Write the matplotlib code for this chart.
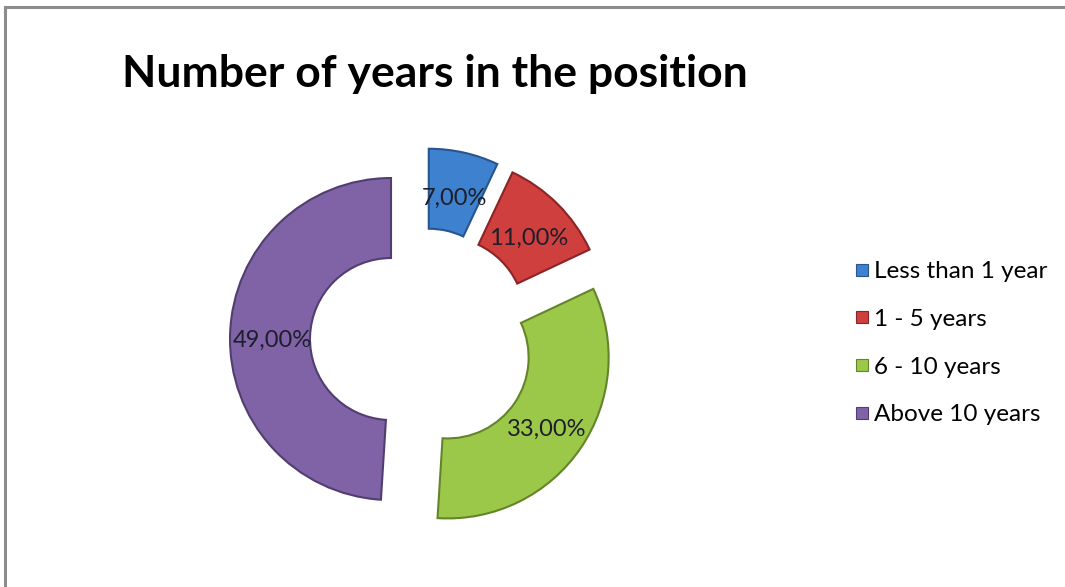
import matplotlib
matplotlib.use("Agg")
import matplotlib.pyplot as plt
from matplotlib.lines import Line2D
from matplotlib.patches import Rectangle

plt.rcParams['font.family'] = ['Lato', 'DejaVu Sans']

categories = ["Less than 1 year", "1 - 5 years", "6 - 10 years", "Above 10 years"]
shares = [7.0, 11.0, 33.0, 49.0]
colors = ["#3E82CF", "#CF3F3D", "#9CC84A", "#8063A6"]
edge_colors = ["#265590", "#8A2426", "#64842A", "#513E70"]

W, H = 1065, 587
fig = plt.figure(figsize=(W / 100, H / 100), dpi=100)
ax = fig.add_axes([0, 0, 1, 1])

# outer frame of the chart area (only top and left edges fall inside)
ax.add_patch(Rectangle((5, -10), W + 20, H - 7 + 10, fill=False,
                       edgecolor="#8C8C8C", linewidth=2.2))

wedges, texts, autotexts = ax.pie(
    shares,
    colors=colors,
    startangle=90,
    counterclock=False,
    center=(422, H - 340),
    radius=161,
    explode=[31] * len(shares),
    wedgeprops=dict(width=80, linewidth=1.5),
    autopct=lambda p: f"{p:.2f}%".replace(".", ","),
    pctdistance=0.74,
    textprops=dict(fontsize=17, color="#1E1E2A"),
)
for w, ec in zip(wedges, edge_colors):
    w.set_edgecolor(ec)
# labels sit a little below the ring centreline
for t in autotexts:
    x, y = t.get_position()
    t.set_position((x, y - 5))

ax.set_xlim(0, W)
ax.set_ylim(0, H)
ax.set_aspect("equal")
ax.axis("off")

fig.text(122 / W, 1 - 87 / H, "Number of years in the position",
         fontsize=32, fontweight="bold", color="black", va="baseline", ha="left")

handles = [Line2D([], [], marker="s", linestyle="none", markersize=8.6,
                  markerfacecolor=c, markeredgecolor=ec, markeredgewidth=0.8)
           for c, ec in zip(colors, edge_colors)]
fig.legend(handles, categories, loc="upper left",
           bbox_to_anchor=(856 / W, 1 - 261 / H), frameon=False,
           fontsize=17.5, labelspacing=1.10, handlelength=0.5,
           handletextpad=0.25, borderaxespad=0, borderpad=0)

fig.savefig("out.png", dpi=100, facecolor="white")
